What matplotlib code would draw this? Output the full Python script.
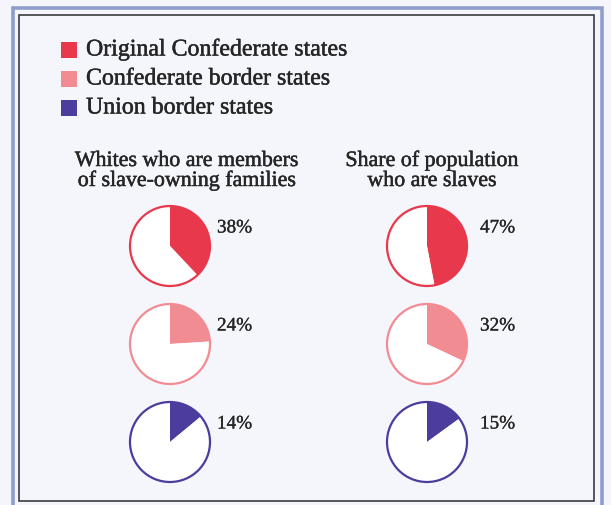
import matplotlib
matplotlib.use("Agg")
import matplotlib.pyplot as plt
from matplotlib.patches import Rectangle, Circle
import matplotlib.patheffects as pe

W, H = 611, 506

categories = ["Original Confederate states", "Confederate border states", "Union border states"]
colors = ["#E8384C", "#F28C93", "#4B3C9E"]
panel_titles = [["Whites who are members", "of slave-owning families"],
                ["Share of population", "who are slaves"]]
whites_share = [38, 24, 14]
slave_share = [47, 32, 15]
series = [whites_share, slave_share]

col_x = [170, 427]
row_y = [247, 345, 443]
title_x = [187, 432]
label_x = [217, 480]
radius = 40

fig = plt.figure(figsize=(W / 100, H / 100), dpi=100)
fig.patch.set_facecolor("#F5F6FB")
ax = fig.add_axes([0, 0, 1, 1])
ax.set_facecolor("#F5F6FB")

def Y(y):
    return H - y

txtc = "#262626"
serif = ["Liberation Serif", "DejaVu Serif"]
bold = [pe.withStroke(linewidth=0.35, foreground=txtc)]
semi = [pe.withStroke(linewidth=0.2, foreground=txtc)]

# frame
ax.add_patch(Rectangle((12.5, Y(520)), 589, 511, fill=False, ec="#8E9DCB", lw=2.6, zorder=1))
ax.add_patch(Rectangle((19, Y(502)), 575, 486, fill=False, ec="#3A3A44", lw=1.2, zorder=1))

# legend
for i, (lab, c) in enumerate(zip(categories, colors)):
    yc = 51 + i * 29
    ax.add_patch(Rectangle((61, Y(yc + 8)), 16, 16, color=c, lw=0, zorder=2))
    ax.text(86, Y(yc), lab, fontsize=17.2, family=serif, color=txtc, va="center", ha="left",
            path_effects=bold)

# panel titles
for j, lines in enumerate(panel_titles):
    for k, line in enumerate(lines):
        ax.text(title_x[j], Y(167 + k * 20), line, fontsize=15.8, family=serif,
                color=txtc, va="baseline", ha="center", path_effects=bold)

# pies
for j, vals in enumerate(series):
    for i, v in enumerate(vals):
        cx, cy = col_x[j], row_y[i]
        ax.pie([v, 100 - v], colors=[colors[i], "white"], startangle=90, counterclock=False,
               center=(cx, Y(cy)), radius=radius, frame=True,
               wedgeprops=dict(linewidth=0))
        ax.add_patch(Circle((cx, Y(cy)), radius, fill=False, ec=colors[i], lw=1.6, zorder=3))
        ax.text(label_x[j], Y(cy - 18), f"{v}%",
                fontsize=13.8, family=serif, color=txtc, va="center", ha="left",
                path_effects=semi)

ax.set_xlim(0, W)
ax.set_ylim(0, H)
ax.set_aspect("auto")
ax.axis("off")

fig.savefig("out.png", dpi=100, facecolor=fig.get_facecolor())
